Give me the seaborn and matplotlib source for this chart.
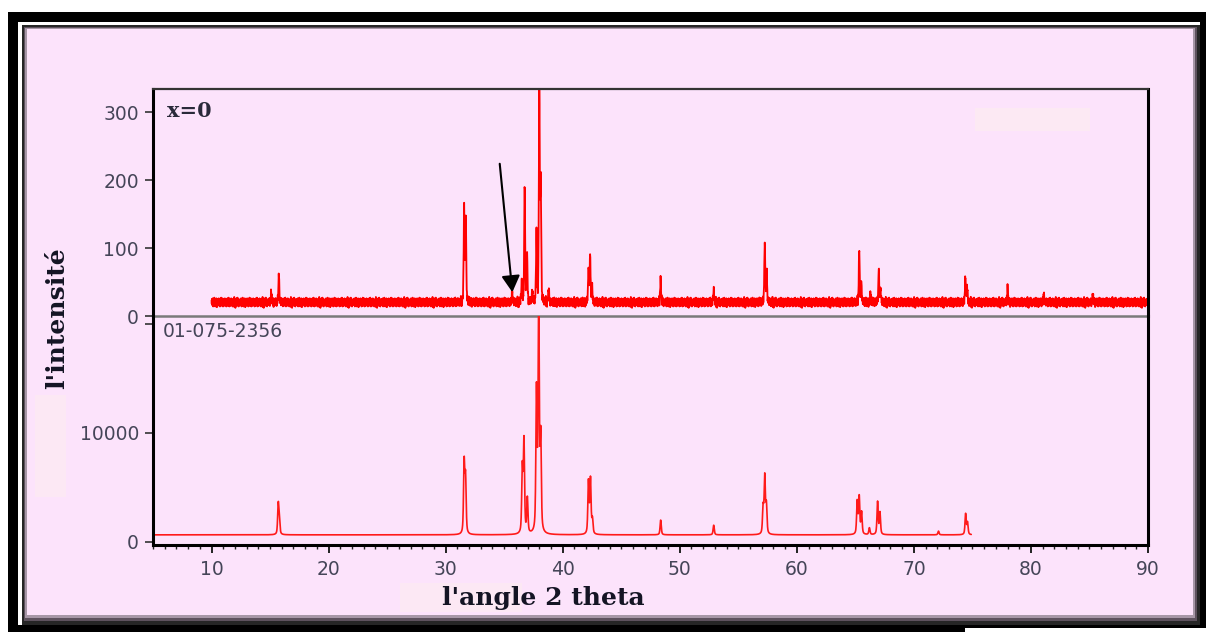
import numpy as np
import pandas as pd
import matplotlib
matplotlib.use("Agg")
import matplotlib.pyplot as plt
from matplotlib.patches import Rectangle
from matplotlib.ticker import MultipleLocator, FixedLocator
import seaborn as sns

# ---------------- data ----------------
# measured sample scan (x = 0)
sample_range = (10.0, 90.0)
sample_step = 0.02
sample_baseline = 20
sample_peak_pos = [15.10, 15.75, 31.58, 31.72, 35.68, 36.50, 36.75, 36.95, 37.40,
                   37.76, 38.00, 38.12, 38.80, 42.20, 42.34, 42.50, 48.36, 52.90,
                   57.26, 57.42, 65.33, 65.50, 66.30, 67.00, 67.15, 74.40, 74.55,
                   78.00, 81.10, 85.30]
sample_peak_net = [14, 40, 136, 125, 15, 28, 178, 72, 14, 100, 320, 175, 20, 46,
                   70, 26, 34, 20, 86, 48, 76, 32, 12, 50, 18, 36, 22, 20, 10, 10]
# counting noise on the measured scan
sample_noise = [3, -2, 5, -4, 1, 6, -3, -6, 2, 4, -1, -5, 7, 0, -3, 4, -6, 2, 5,
                -2, -4, 6, 1, -7, 3, -1, 5, -5, 2, 0, -3, 6, -2, -4, 4, 1, -6, 3,
                5, -3, 0, 7, -5, 2, -1, 4, -4, 6, -2, -6, 3, 1, -3, 5, -1, -5, 2,
                6, -4, 0, 3, -2, 5, -6, 1, 4, -3, -1, 6, -5, 2, 0, -4, 7, -2, 3,
                -6, 1, 5, -3, -1, 4, -5, 2, 6, -2, 0, -4, 3, 5, -6, 1, -1, 4, -3,
                2, -5, 8, -7, 1, 4, -2, -8, 5, 0, 2, -3, 6, -1, -5, 3, 7, -4, -2,
                1, 5, -6, 3, -1, 2, -4]

# reference card 01-075-2356
ref_range = (5.0, 74.9)
ref_step = 0.01
ref_baseline = 650
ref_peak_pos = [15.70, 15.79, 31.58, 31.70, 36.55, 36.69, 36.98, 37.76, 37.95,
                38.12, 42.20, 42.37, 42.54, 48.37, 52.90, 57.12, 57.26, 57.40,
                65.16, 65.33, 65.53, 66.20, 66.90, 67.10, 72.10, 74.42, 74.58]
ref_peak_net = [2700, 1300, 6500, 5000, 5900, 8400, 3200, 12800, 21000, 8500,
                4800, 5000, 1300, 1350, 880, 2400, 5200, 2600, 3000, 3400, 2000,
                620, 3000, 2000, 340, 1900, 1100]

top_ticks = [0, 100, 200, 300]
bottom_ticks = [0, 10000, 20000]
bottom_ticklabels = ["0", "10000", ""]
x_ticks = [10, 20, 30, 40, 50, 60, 70, 80, 90]


def pseudo_voigt(x, pos, height, fwhm, eta):
    d = (x - pos) / fwhm
    gauss = np.exp(-4 * np.log(2) * d ** 2)
    lorentz = 1.0 / (1.0 + 4 * d ** 2)
    return height * (eta * lorentz + (1 - eta) * gauss)


def pattern(rng, step, baseline, pos, net, fwhm, eta, noise=None):
    x = np.arange(rng[0], rng[1] + step / 2, step)
    y = np.full_like(x, float(baseline))
    for p, h in zip(pos, net):
        y += pseudo_voigt(x, p, h, fwhm, eta)
    if noise is not None:
        y += np.resize(np.array(noise, float), x.size)
    return pd.DataFrame({"two_theta": x, "intensity": y})


sample_df = pattern(sample_range, sample_step, sample_baseline, sample_peak_pos,
                    sample_peak_net, 0.09, 0.3, sample_noise)
ref_df = pattern(ref_range, ref_step, ref_baseline, ref_peak_pos, ref_peak_net,
                 0.12, 0.55)

# ---------------- figure ----------------
sns.set_theme(style="white")
plt.rcParams["font.family"] = ["DejaVu Sans"]

W, H = 1208, 634
fig = plt.figure(figsize=(W / 100, H / 100), dpi=100)
fig.patch.set_facecolor("white")


def frame_rect(x0, y0, x1, y1, color, z=-20):
    fig.add_artist(Rectangle((x0 / W, 1 - y1 / H), (x1 - x0) / W, (y1 - y0) / H,
                             transform=fig.transFigure, facecolor=color,
                             edgecolor="none", zorder=z))


# framed pink card with drop shadow
frame_rect(8, 12, 1206, 628, "black", -30)
frame_rect(8, 628, 965, 632, "black", -30)
frame_rect(18, 22, 1200, 625, "white", -29)
frame_rect(22, 25, 1200, 625, "#262626", -28)
frame_rect(24, 27, 1197, 621, "#5e525e", -27)
frame_rect(25, 28, 1195, 618, "#a797a7", -26)
frame_rect(27, 29, 1193, 615, "#fce3fb", -25)
# pale retouched patches
frame_rect(975, 108, 1090, 131, "#fce9f3", -24)
frame_rect(35, 395, 66, 497, "#fce8f4", -24)
frame_rect(400, 583, 522, 612, "#fce8f4", -24)

left, right = 153 / W, 1148 / W
y_top, y_mid, y_bot = 1 - 89 / H, 1 - 316 / H, 1 - 545 / H
ax_top = fig.add_axes([left, y_mid, right - left, y_top - y_mid])
ax_bot = fig.add_axes([left, y_bot, right - left, y_mid - y_bot], sharex=ax_top)

for ax in (ax_top, ax_bot):
    ax.set_facecolor("none")
    for s in ("left", "right", "bottom", "top"):
        ax.spines[s].set_visible(True)
        ax.spines[s].set_color("black")
        ax.spines[s].set_linewidth(2.2)

sns.lineplot(data=sample_df, x="two_theta", y="intensity", ax=ax_top,
             color="#ff0000", linewidth=1.3, estimator=None, sort=False)
sns.lineplot(data=ref_df, x="two_theta", y="intensity", ax=ax_bot,
             color="#ff1a1a", linewidth=1.2, estimator=None, sort=False)

ax_top.set_xlim(5, 90)
ax_top.set_ylim(0, 334)
ax_bot.set_ylim(-280, 20700)

ax_top.spines["bottom"].set_color("#7a7a7a")
ax_top.spines["bottom"].set_linewidth(1.8)
ax_top.spines["top"].set_color("#333333")
ax_top.spines["top"].set_linewidth(1.6)
ax_bot.spines["top"].set_visible(False)

tick_color = "#454558"
ax_top.yaxis.set_major_locator(FixedLocator(top_ticks))
ax_bot.yaxis.set_major_locator(FixedLocator(bottom_ticks))
ax_bot.set_yticklabels(bottom_ticklabels)
ax_bot.xaxis.set_major_locator(FixedLocator(x_ticks))
ax_bot.xaxis.set_minor_locator(MultipleLocator(1))

for ax in (ax_top, ax_bot):
    ax.tick_params(axis="y", which="major", direction="out", length=6, width=1.2,
                   color="#333333", left=True, pad=4, labelsize=13.5,
                   labelcolor=tick_color)
    ax.set_xlabel("")
    ax.set_ylabel("")
ax_top.tick_params(axis="x", bottom=False, labelbottom=False)
ax_bot.tick_params(axis="x", which="major", direction="out", length=6, width=1.4,
                   color="#222222", bottom=True, pad=5, labelsize=13.5,
                   labelcolor=tick_color)
ax_bot.tick_params(axis="x", which="minor", direction="out", length=3, width=1.0,
                   color="#222222", bottom=True)

ax_top.text(0.014, 0.905, "x=0", transform=ax_top.transAxes, ha="left",
            va="center", fontsize=15, fontweight="bold", family="DejaVu Serif",
            color="#2a2a3a")
ax_bot.text(0.010, 0.975, "01-075-2356", transform=ax_bot.transAxes, ha="left",
            va="top", fontsize=13.5, color=tick_color)

ax_top.annotate("", xy=(35.70, 35), xytext=(34.62, 224),
                arrowprops=dict(arrowstyle="-|>,head_length=0.5,head_width=0.28",
                                color="black", lw=1.5, mutation_scale=20,
                                shrinkA=0, shrinkB=0))

fig.text(57 / W, 1 - 318 / H, "l'intensité", rotation=90, ha="center",
         va="center", fontsize=18, fontweight="bold", family="DejaVu Serif",
         color="#141424")
fig.text(543 / W, 1 - 598 / H, "l'angle 2 theta", ha="center", va="center",
         fontsize=18, fontweight="bold", family="DejaVu Serif", color="#141424")

fig.savefig("out.png", dpi=100, facecolor=fig.get_facecolor())
